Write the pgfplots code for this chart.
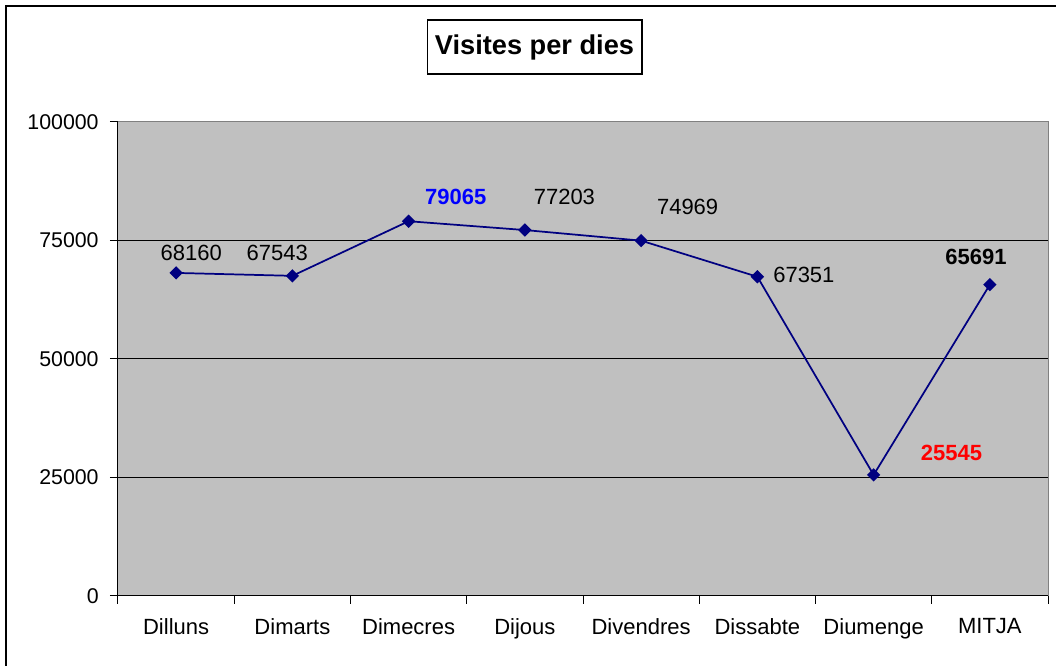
\documentclass[border=0pt]{standalone}
\usepackage{fontspec}
\setmainfont{Liberation Sans}
\usepackage{pgfplots}
\pgfplotsset{compat=1.18}
\definecolor{plotgray}{HTML}{C0C0C0}
\definecolor{navyline}{HTML}{000080}
\definecolor{framegray}{HTML}{808080}

\begin{document}
\begin{tikzpicture}[x=0.75pt,y=0.75pt]
\useasboundingbox (0,0) rectangle (1056,666);
\draw[line width=1.5pt] (6,0) -- (6,660) -- (1056,660);
\node[draw, line width=1pt, minimum width=161pt, minimum height=40.5pt, inner sep=0pt,
      font=\fontsize{20.4}{24}\selectfont\bfseries] at (534.5,619) {Visites per dies};
\begin{axis}[
  at={(88.5pt,52.5pt)}, anchor=south west,
  scale only axis, width=697.5pt, height=355.5pt,
  xmin=-0.5, xmax=7.5, ymin=0, ymax=100000,
  xtick={-0.5,0.5,1.5,2.5,3.5,4.5,5.5,6.5,7.5},
  xticklabels={Dilluns,Dimarts,Dimecres,Dijous,Divendres,Dissabte,Diumenge,MITJA,{}},
  xticklabel style={xshift=43.59pt, yshift=-7.2pt, font=\fontsize{16.5}{19}\selectfont},
  ytick={0,25000,50000,75000,100000},
  yticklabels={0,25000,50000,75000,100000},
  scaled y ticks=false,
  yticklabel style={xshift=-5pt, font=\fontsize{16}{19}\selectfont},
  axis x line*=bottom, axis y line*=left,
  axis line style={black, line width=0.75pt},
  tick align=outside, major tick length=6pt,
  tick style={black, line width=0.75pt},
  ymajorgrids, grid style={black, line width=0.75pt},
  axis background/.style={fill=plotgray},
  clip=false,
]
\addplot[navyline, line width=1.3pt, mark=square*, mark size=2.9pt,
         mark options={rotate=45, solid}] coordinates {
  (0,68160) (1,67543) (2,79065) (3,77203) (4,74969) (5,67351) (6,25545) (7,65691)
};
\draw[framegray, line width=0.75pt] (rel axis cs:0,1) -- (rel axis cs:1,1) -- (rel axis cs:1,0);
\begin{scope}[every node/.style={font=\fontsize{16.5}{19}\selectfont}]
\node at (axis cs:0.13,72363) {68160};
\node at (axis cs:0.87,72363) {67543};
\node[text=blue, font=\fontsize{16.5}{19}\selectfont\bfseries] at (axis cs:2.405,84177) {79065};
\node at (axis cs:3.34,84177) {77203};
\node at (axis cs:4.40,82068) {74969};
\node at (axis cs:5.40,67722) {67351};
\node[text=red, font=\fontsize{16.5}{19}\selectfont\bfseries] at (axis cs:6.67,30169) {25545};
\node[font=\fontsize{16.5}{19}\selectfont\bfseries] at (axis cs:6.88,71519) {65691};
\end{scope}
\end{axis}
\end{tikzpicture}
\end{document}
